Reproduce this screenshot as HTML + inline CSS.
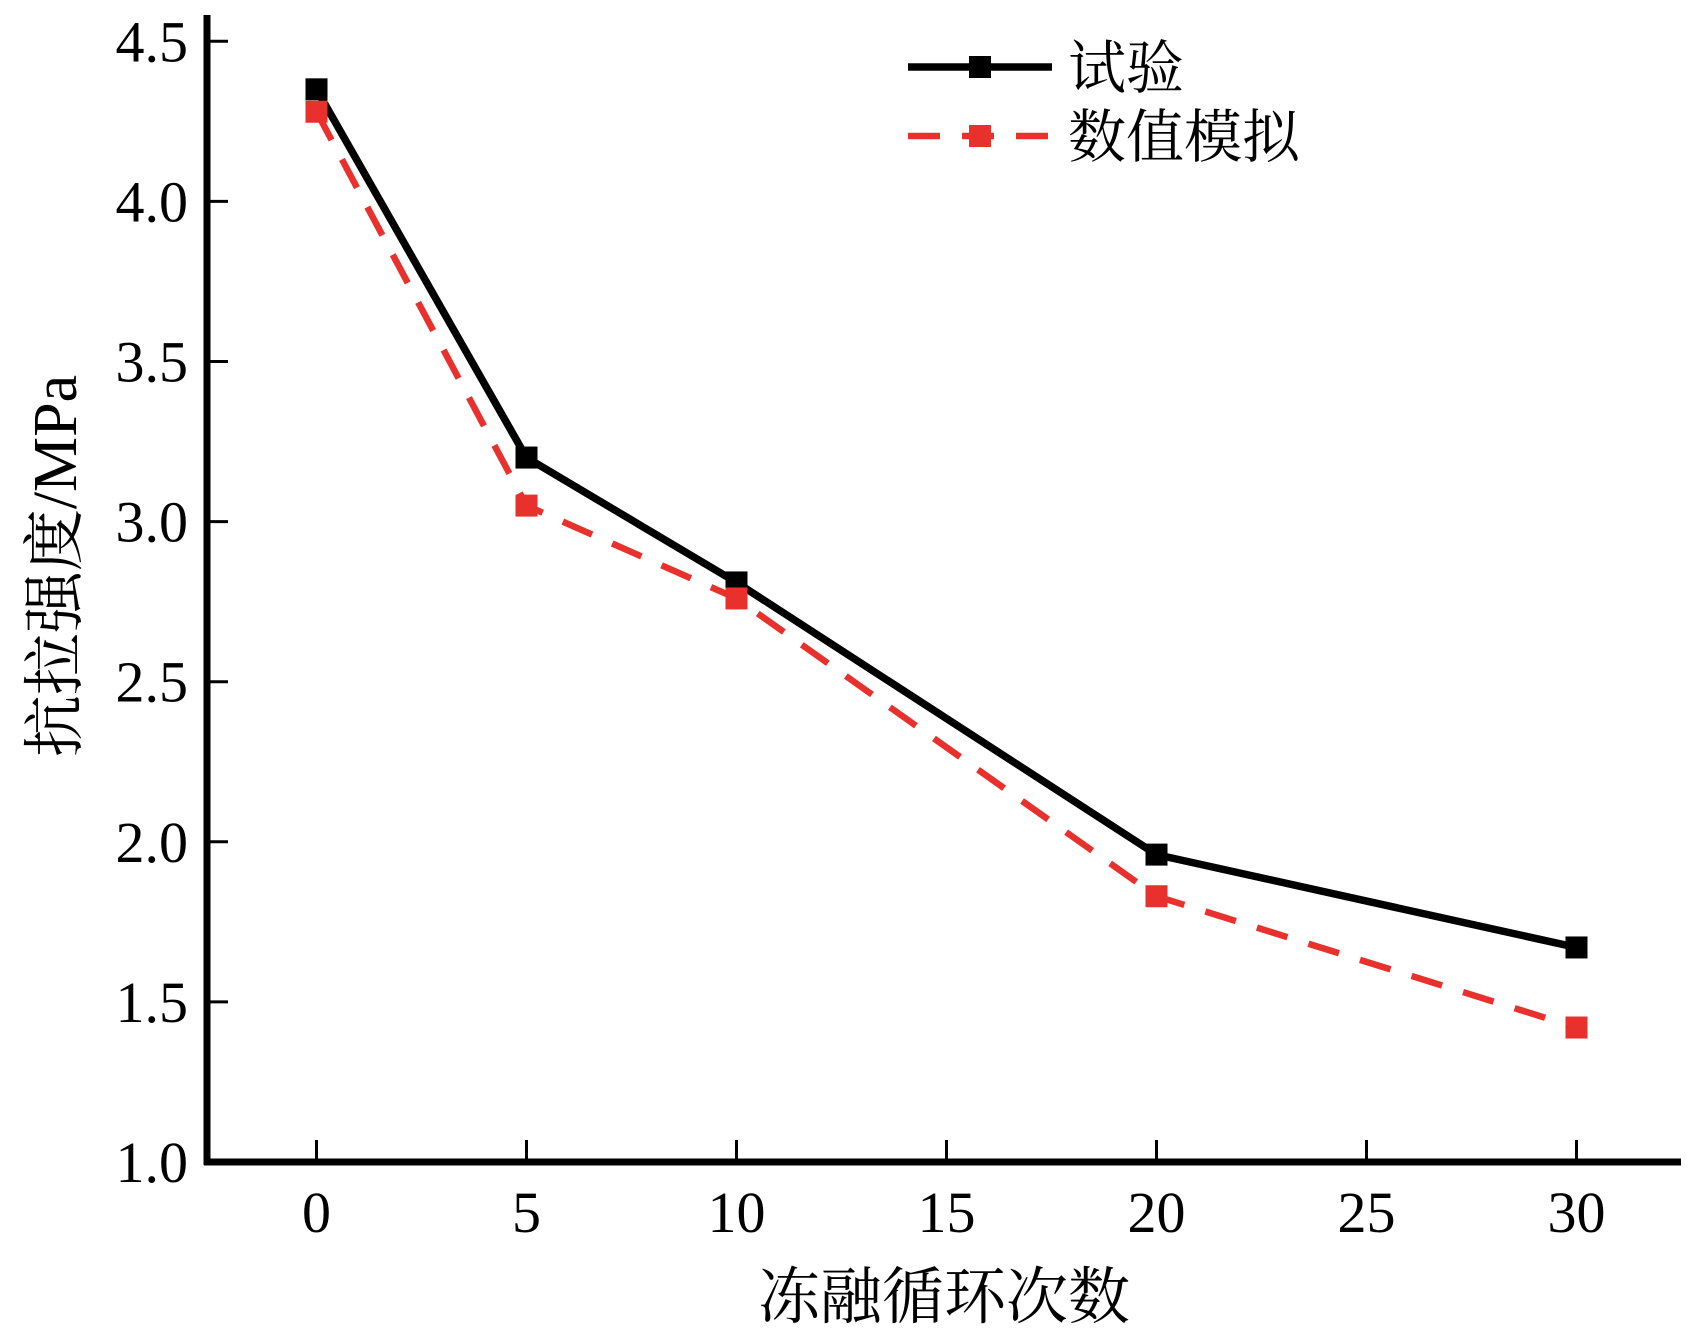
<!DOCTYPE html>
<html><head><meta charset="utf-8"><style>html,body{margin:0;background:#fff}</style></head>
<body>
<svg width="1697" height="1331" viewBox="0 0 1697 1331" xmlns="http://www.w3.org/2000/svg">
<g id="g"></g>
</svg>
<script>
const categories=[0,5,10,20,30];
const expValues=[4.35,3.20,2.81,1.96,1.67];
const simValues=[4.28,3.05,2.76,1.83,1.42];
const xTicks=[0,5,10,15,20,25,30];
const yTicks=[1.0,1.5,2.0,2.5,3.0,3.5,4.0,4.5];
const NS='http://www.w3.org/2000/svg';
const g=document.getElementById('g');
const X=v=>316.5+v*42;
const Y=v=>1162-(v-1)*320.2;
function el(t,a,txt){const e=document.createElementNS(NS,t);for(const k in a)e.setAttribute(k,a[k]);if(txt!==undefined)e.textContent=txt;g.appendChild(e);return e;}
const serif='"Liberation Serif","Noto Serif CJK SC",serif';
let e;
e=el('line',{x1:207,y1:15,x2:207,y2:1165,stroke:'#000','stroke-width':7});


e=el('line',{x1:204,y1:1162,x2:1681,y2:1162,stroke:'#000','stroke-width':7});


xTicks.forEach(t=>{
 e=el('line',{x1:X(t),y1:1162,x2:X(t),y2:1140,stroke:'#000','stroke-width':3});
 
 
 e=el('text',{x:X(t),y:1232,'text-anchor':'middle','font-family':serif,'font-size':58},String(t));
 
 
});
yTicks.forEach(t=>{
 e=el('line',{x1:207,y1:Y(t),x2:228,y2:Y(t),stroke:'#000','stroke-width':3});
 
 
 e=el('text',{x:188,y:Y(t)+20,'text-anchor':'end','font-family':serif,'font-size':58},t.toFixed(1));
 
 
});
function series(vals,color,dash,name){
 const pts=categories.map((c,i)=>X(c)+','+Y(vals[i])).join(' ');
 const a={points:pts,fill:'none',stroke:color,'stroke-width':dash?6.5:7.5,'stroke-linejoin':'miter'};
 if(dash)a['stroke-dasharray']='32 22';
 e=el('polyline',a);
 
 
 categories.forEach((c,i)=>{
  e=el('rect',{x:X(c)-11,y:Y(vals[i])-11,width:22,height:22,fill:color});
  
  
 });
}
series(expValues,'#000',false,'experiment');
series(simValues,'#e8312c',true,'simulation');
// legend
e=el('line',{x1:908,y1:67,x2:1052,y2:67,stroke:'#000','stroke-width':7.5});


e=el('rect',{x:969,y:56,width:22,height:22,fill:'#000'});


e=el('text',{x:1068,y:88,'font-family':serif,'font-size':58},'试验');


e=el('line',{x1:908,y1:136,x2:1052,y2:136,stroke:'#e8312c','stroke-width':6.5,'stroke-dasharray':'32 22'});


e=el('rect',{x:969,y:125,width:22,height:22,fill:'#e8312c'});


e=el('text',{x:1068,y:157,'font-family':serif,'font-size':58},'数值模拟');


e=el('text',{x:944,y:1318,'text-anchor':'middle','font-family':serif,'font-size':62},'冻融循环次数');


e=el('text',{x:0,y:0,'text-anchor':'middle','font-family':serif,'font-size':62,transform:'translate(76,566) rotate(-90)'},'抗拉强度/MPa');


</script>
</body></html>
